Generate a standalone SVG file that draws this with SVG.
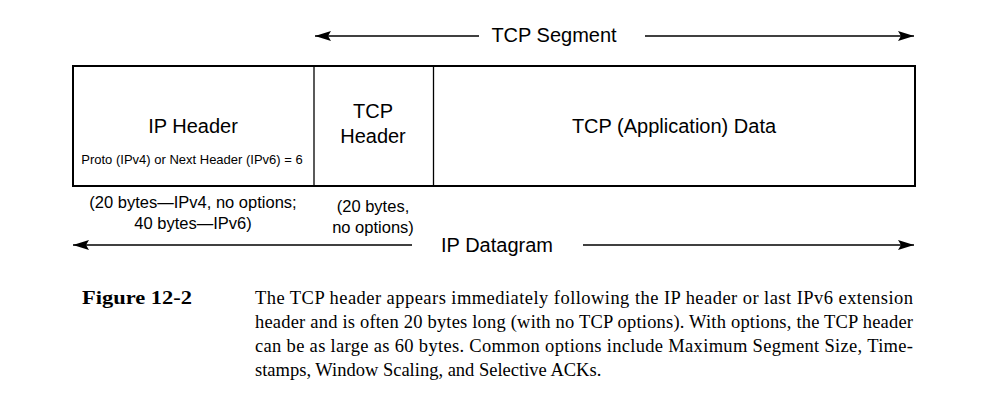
<svg xmlns="http://www.w3.org/2000/svg" width="986" height="406" viewBox="0 0 986 406">
<style>
.s{font-family:"Liberation Sans",Arial,sans-serif;fill:#000;text-anchor:middle}
.l{font-size:20px}
.m{font-size:16.5px}
.sm{font-size:13px}
.c{font-family:"Liberation Serif","Times New Roman",serif;font-size:18.5px;fill:#000}
.ln{stroke:#000;stroke-width:1.3;fill:none}
</style>
<defs>
<marker id="ah" viewBox="0 0 16 10" refX="16" refY="5" markerWidth="16" markerHeight="10" markerUnits="userSpaceOnUse" orient="auto-start-reverse">
<path d="M0,0 L16,5 L0,10 L3,5 Z" fill="#000"/>
</marker>
</defs>
<rect width="986" height="406" fill="#fff"/>
<g id="connectors">
<line class="ln" x1="479" y1="36" x2="315" y2="36" marker-end="url(#ah)"/>
<line class="ln" x1="645" y1="36" x2="914" y2="36" marker-end="url(#ah)"/>
<line class="ln" x1="412" y1="245" x2="73" y2="245" marker-end="url(#ah)"/>
<line class="ln" x1="583" y1="245" x2="914" y2="245" marker-end="url(#ah)"/>
</g>
<g id="frame">
<rect x="73" y="66" width="842" height="120" fill="none" stroke="#000" stroke-width="2"/>
</g>
<g id="ip-header">
<line x1="314" y1="66" x2="314" y2="186" stroke="#000" stroke-width="1.3"/>
<text class="s l" x="193" y="133">IP Header</text>
<text class="s sm" x="192" y="164">Proto (IPv4) or Next Header (IPv6) = 6</text>
</g>
<g id="tcp-header">
<line x1="433.5" y1="66" x2="433.5" y2="186" stroke="#000" stroke-width="1.3"/>
<text class="s l" x="373" y="118">TCP</text>
<text class="s l" x="373" y="143">Header</text>
</g>
<g id="tcp-data">
<text class="s l" x="674" y="133">TCP (Application) Data</text>
</g>
<g id="labels">
<text class="s l" x="554" y="42">TCP Segment</text>
<text class="s l" x="497" y="252">IP Datagram</text>
<text class="s m" x="193" y="208">(20 bytes—IPv4, no options;</text>
<text class="s m" x="193" y="229">40 bytes—IPv6)</text>
<text class="s m" x="373" y="212">(20 bytes,</text>
<text class="s m" x="373" y="233">no options)</text>
</g>
<g id="caption">
<text class="c" x="82" y="304" font-weight="bold" textLength="110" lengthAdjust="spacingAndGlyphs">Figure 12-2</text>
<text class="c" x="255" y="304" textLength="658" lengthAdjust="spacing">The TCP header appears immediately following the IP header or last IPv6 extension</text>
<text class="c" x="255" y="328" textLength="658" lengthAdjust="spacing">header and is often 20 bytes long (with no TCP options). With options, the TCP header</text>
<text class="c" x="255" y="352" textLength="658" lengthAdjust="spacing">can be as large as 60 bytes. Common options include Maximum Segment Size, Time-</text>
<text class="c" x="255" y="376">stamps, Window Scaling, and Selective ACKs.</text>
</g>
</svg>
